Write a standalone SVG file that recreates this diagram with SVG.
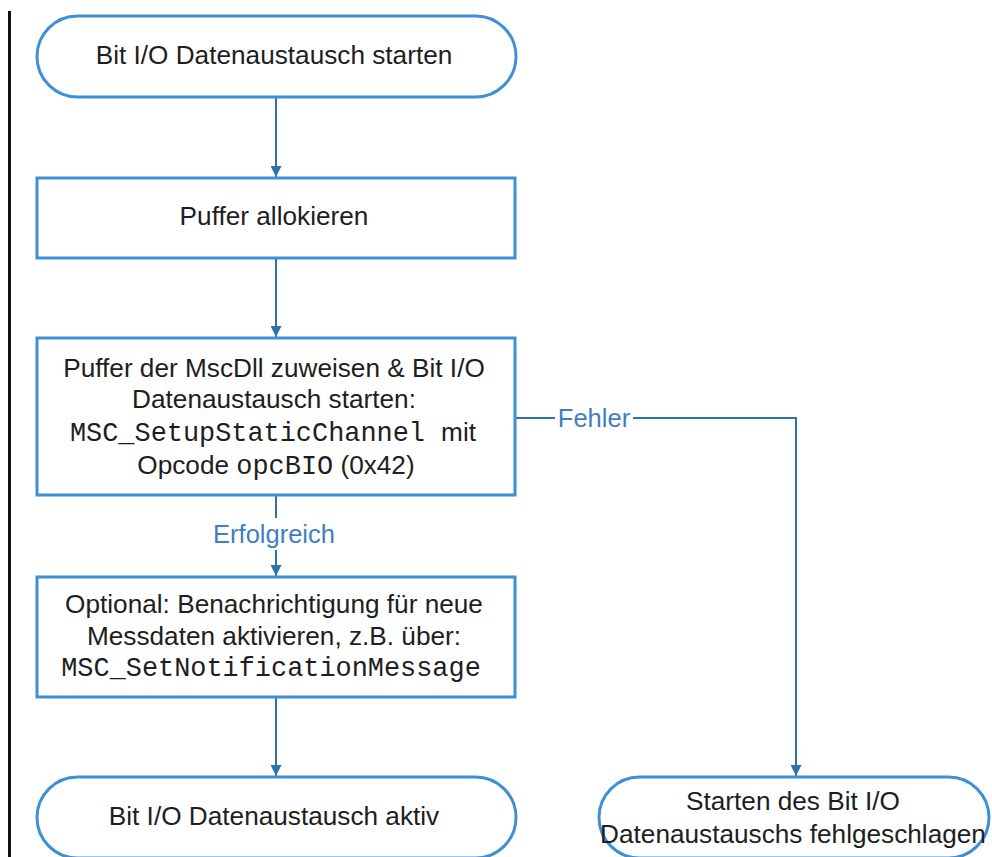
<svg xmlns="http://www.w3.org/2000/svg" width="992" height="857" viewBox="0 0 992 857">
<defs>
<style>
.shape{fill:#fff;stroke:#3d8fd6;stroke-width:3}
.t{font-family:"Liberation Sans",Arial,sans-serif;font-size:26.2px;fill:#1e1e1e;text-anchor:middle}
.m{font-family:"Liberation Mono","Courier New",monospace;font-size:26.9px}
.conn{fill:none;stroke:#2f72aa;stroke-width:2}
.lbl{font-family:"Liberation Sans",Arial,sans-serif;font-size:25.5px;fill:#3f7fbf;text-anchor:middle}
</style>
<marker id="arr" viewBox="0 0 10 10" refX="10" refY="5" markerWidth="11" markerHeight="11" markerUnits="userSpaceOnUse" orient="auto">
<path d="M0,0 L10,5 L0,10 Z" fill="#2f72aa"/>
</marker>
</defs>
<rect width="992" height="857" fill="#fff"/>
<line x1="9.5" y1="11" x2="9.5" y2="857" stroke="#111" stroke-width="3"/>
<g id="connectors">
<line class="conn" x1="276" y1="97" x2="276" y2="177" marker-end="url(#arr)"/>
<line class="conn" x1="276" y1="258" x2="276" y2="337" marker-end="url(#arr)"/>
<line class="conn" x1="276" y1="495" x2="276" y2="576" marker-end="url(#arr)"/>
<line class="conn" x1="276" y1="697" x2="276" y2="776" marker-end="url(#arr)"/>
<polyline class="conn" points="515,418 796,418 796,776" marker-end="url(#arr)"/>
<rect x="210" y="518" width="128" height="32" fill="#fff"/>
<text class="lbl" x="274" y="543">Erfolgreich</text>
<rect x="555" y="404" width="78" height="30" fill="#fff"/>
<text class="lbl" x="594" y="427">Fehler</text>
</g>
<g id="start">
<rect class="shape" x="37" y="16" width="479" height="81" rx="40.5"/>
<text class="t" x="274" y="64">Bit I/O Datenaustausch starten</text>
</g>
<g id="puffer">
<rect class="shape" x="37" y="178" width="478" height="80"/>
<text class="t" x="274" y="225">Puffer allokieren</text>
</g>
<g id="zuweisen">
<rect class="shape" x="37" y="338" width="478" height="157"/>
<text class="t" x="274" y="377">Puffer der MscDll zuweisen &amp; Bit I/O</text>
<text class="t" x="274" y="408">Datenaustausch starten:</text>
<text class="t" x="273" y="441"><tspan class="m">MSC_SetupStaticChannel </tspan>mit</text>
<text class="t" x="276" y="474">Opcode <tspan class="m">opcBIO</tspan> (0x42)</text>
</g>
<g id="optional">
<rect class="shape" x="37" y="577" width="478" height="120"/>
<text class="t" x="274" y="613">Optional: Benachrichtigung für neue</text>
<text class="t" x="274" y="645">Messdaten aktivieren, z.B. über:</text>
<text class="t m" x="271" y="676">MSC_SetNotificationMessage</text>
</g>
<g id="aktiv">
<rect class="shape" x="37" y="777" width="479" height="81" rx="40.5"/>
<text class="t" x="274" y="825">Bit I/O Datenaustausch aktiv</text>
</g>
<g id="fehlgeschlagen">
<rect class="shape" x="599" y="777" width="390" height="81" rx="40.5"/>
<text class="t" x="793" y="810">Starten des Bit I/O</text>
<text class="t" x="793" y="843">Datenaustauschs fehlgeschlagen</text>
</g>
</svg>
